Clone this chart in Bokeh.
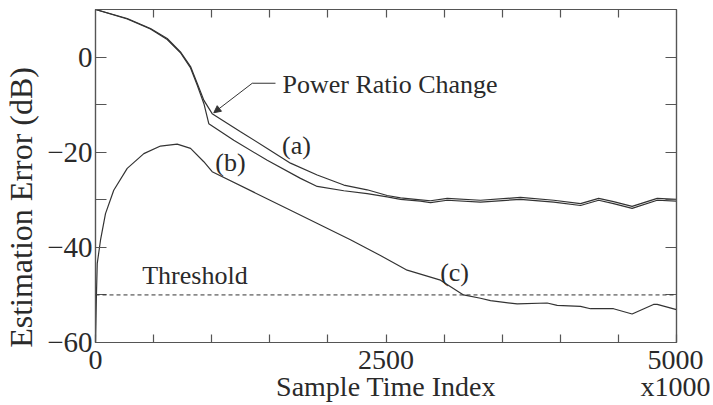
from bokeh.plotting import figure
from bokeh.models import Range1d, LinearAxis, FixedTicker, Label, Arrow, NormalHead, Span
from bokeh.embed import file_html
from bokeh.resources import INLINE

# ---- data ----
# curve (a)
x_a = [0, 273, 473, 617, 731, 818, 875, 933, 1004, 1248, 1478, 1678, 1908, 2137, 2338, 2510,
       2625, 2797, 2883, 3027, 3313, 3657, 3944, 4174, 4330, 4458, 4618, 4834, 5000]
y_a = [10.0, 8.1, 6.0, 3.9, 1.1, -2.0, -5.5, -9.1, -11.9, -15.7, -19.2, -22.3, -24.8, -26.9, -27.9, -29.1,
       -29.6, -30.0, -30.2, -29.7, -30.1, -29.5, -30.1, -30.8, -29.7, -30.4, -31.4, -29.7, -29.9]
# curve (b)
x_b = [0, 273, 473, 617, 731, 818, 875, 933, 975, 1190, 1478, 1764, 1908, 2137, 2338, 2510,
       2625, 2797, 2883, 3027, 3313, 3657, 3944, 4174, 4330, 4458, 4618, 4834, 5000]
y_b = [10.0, 8.0, 5.9, 3.7, 0.9, -2.3, -5.9, -9.8, -14.0, -17.5, -21.7, -25.5, -27.2, -28.1, -28.7, -29.4,
       -29.9, -30.3, -30.6, -30.1, -30.5, -29.9, -30.5, -31.2, -30.1, -30.8, -31.8, -30.1, -30.3]
# curve (c)
x_c = [0, 8, 15, 43, 86, 157, 273, 416, 559, 703, 818, 932, 1004, 1678, 2194, 2452, 2682, 2969,
       3167, 3313, 3399, 3629, 3887, 3973, 4174, 4260, 4458, 4618, 4802, 4834, 5000]
y_c = [-60.0, -50.0, -43.4, -38.5, -32.9, -28.0, -23.4, -20.3, -18.7, -18.3, -19.2, -22.0, -24.1, -32.2,
       -38.4, -41.7, -44.8, -46.9, -50.0, -50.7, -51.2, -51.9, -51.7, -52.2, -52.4, -52.9, -52.9, -54.0,
       -52.0, -52.0, -53.1]
threshold_level = -50

x_major = [0, 2500, 5000]
x_minor = [500, 1000, 1500, 2000, 3000, 3500, 4000, 4500]
# tick labels; the axis title and the x1000 multiplier share the second line
x_labels = {0: "0", 2500: "2500\nSample Time Index", 5000: "5000\nx1000"}
y_major = [-60, -40, -20, 0]
y_minor = [-50, -30, -10]
y_labels = {-60: "\u221260", -40: "\u221240", -20: "\u221220", 0: "0"}

y_title_tick = -31.6
y_title_label = "Estimation Error (dB)"

# annotation anchors (data units)
arrow_tip = (1018, -11.7)
arrow_elbow = (1349, -5.5)
leader_end = (1549, -5.5)

FONT = "Liberation Serif"
INK = "#2a2a2a"
LINE = "#333333"
FRAME = "#555555"

p = figure(width=710, height=405, x_range=Range1d(0, 5000), y_range=Range1d(-60, 10),
           x_axis_type=None, y_axis_type=None, output_backend="svg", toolbar_location=None,
           min_border_left=95, min_border_right=34, min_border_top=9, min_border_bottom=63)
p.outline_line_color = FRAME
p.outline_line_width = 1.2
p.background_fill_color = "white"
p.border_fill_color = "white"


def style_axis(ax, tick_len, labels=True):
    ax.axis_line_color = FRAME
    ax.axis_line_width = 1.2
    ax.major_tick_line_color = FRAME
    ax.minor_tick_line_color = FRAME
    ax.major_tick_line_width = 1.2
    ax.minor_tick_line_width = 1.2
    ax.major_tick_in = tick_len
    ax.major_tick_out = 0
    ax.minor_tick_in = tick_len
    ax.minor_tick_out = 0
    ax.major_label_text_font = FONT
    ax.major_label_text_color = INK
    ax.major_label_text_font_size = "28px"
    if not labels:
        ax.major_label_standoff = 0
        ax.axis_label_standoff = 0


xb = LinearAxis(ticker=FixedTicker(ticks=x_major, minor_ticks=x_minor),
                major_label_overrides=x_labels)
style_axis(xb, 8)
xb.major_label_standoff = 1
xb.major_label_text_line_height = 0.9
p.add_layout(xb, "below")

xt = LinearAxis(ticker=FixedTicker(ticks=[], minor_ticks=x_minor + [2500]))
style_axis(xt, 8, labels=False)
p.add_layout(xt, "above")

yl = LinearAxis(ticker=FixedTicker(ticks=y_major, minor_ticks=y_minor), major_label_overrides=y_labels)
style_axis(yl, 11)
yl.major_label_text_font_size = "29px"
yl.major_label_standoff = 3
p.add_layout(yl, "left")

yl2 = LinearAxis(ticker=FixedTicker(ticks=[y_title_tick], minor_ticks=[]),
                 major_label_overrides={y_title_tick: y_title_label},
                 major_label_orientation="vertical")
yl2.axis_line_color = None
yl2.major_tick_line_color = None
yl2.minor_tick_line_color = None
yl2.major_tick_in = 0
yl2.major_tick_out = 0
yl2.minor_tick_in = 0
yl2.minor_tick_out = 0
yl2.major_label_text_font = FONT
yl2.major_label_text_color = INK
yl2.major_label_text_font_size = "32px"
yl2.major_label_standoff = 5
p.add_layout(yl2, "left")

yr = LinearAxis(ticker=FixedTicker(ticks=[], minor_ticks=y_minor + [-40, -20, 0]))
style_axis(yr, 11, labels=False)
p.add_layout(yr, "right")

# curves
p.line(x_a, y_a, line_color=LINE, line_width=1.2)
p.line(x_b, y_b, line_color=LINE, line_width=1.2)
p.line(x_c, y_c, line_color=LINE, line_width=1.2)

p.add_layout(Span(location=threshold_level, dimension="width", line_color=LINE,
                  line_width=1, line_dash="4 3"))

# power ratio change pointer
p.add_layout(Arrow(end=NormalHead(size=7, fill_color=LINE, line_color=LINE),
                   x_start=arrow_elbow[0], y_start=arrow_elbow[1],
                   x_end=arrow_tip[0], y_end=arrow_tip[1], line_color=LINE, line_width=1))
p.add_layout(Arrow(end=None, x_start=arrow_elbow[0], y_start=arrow_elbow[1],
                   x_end=leader_end[0], y_end=leader_end[1], line_color=LINE, line_width=1))


def lab(text, x, y, size="26px", align="left", baseline="middle"):
    p.add_layout(Label(x=x, y=y, text=text, text_font=FONT, text_font_size=size,
                       text_color=INK, text_align=align, text_baseline=baseline))


lab("Power Ratio Change", 1609, -5.7)
lab("(a)", 1730, -18.5, align="center")
lab("(b)", 1162, -22.1, align="center")
lab("(c)", 3090, -45.3, align="center")
lab("Threshold", 402, -45.9)

open("out.html", "w").write(file_html(p, INLINE))
